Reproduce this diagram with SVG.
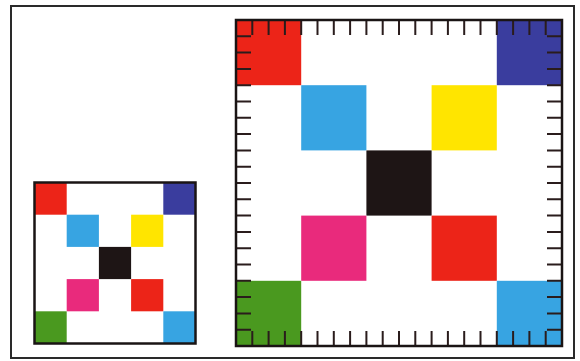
<svg xmlns="http://www.w3.org/2000/svg" width="580" height="361" viewBox="0 0 580 361">
<style>
.red{fill:#ec2418}.navy{fill:#3a3d9e}.sky{fill:#37a4e2}.yel{fill:#ffe500}.blk{fill:#1e1515}.pink{fill:#e92a7c}.grn{fill:#4a991f}
.frame{fill:none;stroke:#2a2a2a;stroke-width:2}
.border{fill:none;stroke:#1a1414;stroke-width:2.5}
.tick{fill:none;stroke:#2a1c1c;stroke-width:2}
</style>
<rect width="580" height="361" fill="#fff"/>
<rect class="frame" x="11" y="6" width="563" height="352"/>
<g id="small-grid">
<rect class="red" x="34.5" y="182.5" width="32.2" height="32.2"/>
<rect class="navy" x="163.3" y="182.5" width="32.2" height="32.2"/>
<rect class="sky" x="66.7" y="214.7" width="32.2" height="32.2"/>
<rect class="yel" x="131.1" y="214.7" width="32.2" height="32.2"/>
<rect class="blk" x="98.9" y="246.9" width="32.2" height="32.2"/>
<rect class="pink" x="66.7" y="279.1" width="32.2" height="32.2"/>
<rect class="red" x="131.1" y="279.1" width="32.2" height="32.2"/>
<rect class="grn" x="34.5" y="311.3" width="32.2" height="32.2"/>
<rect class="sky" x="163.3" y="311.3" width="32.2" height="32.2"/>
<rect class="border" x="34.5" y="182.5" width="161" height="161" stroke-width="2"/>
</g>
<g id="large-grid">
<rect class="red" x="236" y="20" width="65.2" height="65.2"/>
<rect class="navy" x="496.8" y="20" width="65.2" height="65.2"/>
<rect class="sky" x="301.2" y="85.2" width="65.2" height="65.2"/>
<rect class="yel" x="431.6" y="85.2" width="65.2" height="65.2"/>
<rect class="blk" x="366.4" y="150.4" width="65.2" height="65.2"/>
<rect class="pink" x="301.2" y="215.6" width="65.2" height="65.2"/>
<rect class="red" x="431.6" y="215.6" width="65.2" height="65.2"/>
<rect class="grn" x="236" y="280.8" width="65.2" height="65.2"/>
<rect class="sky" x="496.8" y="280.8" width="65.2" height="65.2"/>
<path class="tick" d="M252.3 20v15M268.6 20v15M284.9 20v15M301.2 20v15M317.5 20v15M333.8 20v15M350.1 20v15M366.4 20v15M382.7 20v15M399 20v15M415.3 20v15M431.6 20v15M447.9 20v15M464.2 20v15M480.5 20v15M496.8 20v15M513.1 20v15M529.4 20v15M545.7 20v15"/>
<path class="tick" d="M252.3 346v-15M268.6 346v-15M284.9 346v-15M301.2 346v-15M317.5 346v-15M333.8 346v-15M350.1 346v-15M366.4 346v-15M382.7 346v-15M399 346v-15M415.3 346v-15M431.6 346v-15M447.9 346v-15M464.2 346v-15M480.5 346v-15M496.8 346v-15M513.1 346v-15M529.4 346v-15M545.7 346v-15"/>
<path class="tick" d="M236 36.3h15M236 52.6h15M236 68.9h15M236 85.2h15M236 101.5h15M236 117.8h15M236 134.1h15M236 150.4h15M236 166.7h15M236 183h15M236 199.3h15M236 215.6h15M236 231.9h15M236 248.2h15M236 264.5h15M236 280.8h15M236 297.1h15M236 313.4h15M236 329.7h15"/>
<path class="tick" d="M562 36.3h-15M562 52.6h-15M562 68.9h-15M562 85.2h-15M562 101.5h-15M562 117.8h-15M562 134.1h-15M562 150.4h-15M562 166.7h-15M562 183h-15M562 199.3h-15M562 215.6h-15M562 231.9h-15M562 248.2h-15M562 264.5h-15M562 280.8h-15M562 297.1h-15M562 313.4h-15M562 329.7h-15"/>
<rect class="border" x="236" y="20" width="326" height="326"/>
</g>
</svg>
